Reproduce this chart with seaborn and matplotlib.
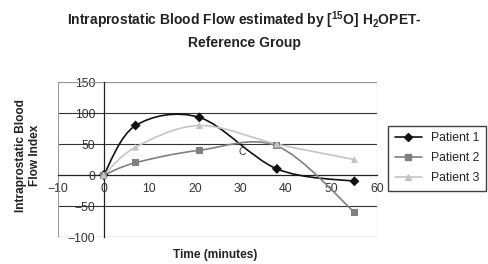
import numpy as np
import pandas as pd
import seaborn as sns
import matplotlib.pyplot as plt
from matplotlib.path import Path
from matplotlib.patches import PathPatch, Rectangle
from matplotlib.lines import Line2D

time = [0, 7, 21, 38, 55]
patient1 = [0, 80, 93, 10, -10]
patient2 = [0, 20, 40, 47, -60]
patient3 = [0, 45, 80, 50, 25]
names = ["Patient 1", "Patient 2", "Patient 3"]
colors = ["#111111", "#808080", "#c4c4c4"]
markers = ["D", "s", "^"]
xTicks = [-10, 0, 10, 20, 30, 40, 50, 60]
yTicks = [-100, -50, 0, 50, 100, 150]

sns.set_style("white")
plt.rcParams["font.family"] = ["Liberation Sans", "DejaVu Sans"]
plt.rcParams["mathtext.fontset"] = "custom"
plt.rcParams["mathtext.rm"] = "Liberation Sans"
plt.rcParams["mathtext.bf"] = "Liberation Sans:bold"

df = pd.DataFrame({
    "Time": time * 3,
    "Flow": patient1 + patient2 + patient3,
    "Patient": [n for n in names for _ in time],
})


def smoothPath(x, y):
    # excel-like smoothed line: catmull-rom segments as cubic beziers
    pts = np.column_stack([x, y]).astype(float)
    ext = np.vstack([pts[0], pts, pts[-1]])
    verts = [pts[0]]
    codes = [Path.MOVETO]
    for i in range(len(pts) - 1):
        p0, p1, p2, p3 = ext[i], ext[i + 1], ext[i + 2], ext[i + 3]
        verts += [p1 + (p2 - p0) / 6.0, p2 - (p3 - p1) / 6.0, p2]
        codes += [Path.CURVE4] * 3
    return Path(verts, codes)


fig = plt.figure(figsize=(4.88, 2.64), dpi=100)
ax = fig.add_axes([0.119, 0.102, 0.654, 0.587])
ax.set_xlim(-10, 60)
ax.set_ylim(-100, 150)

for v in [150, 100, 50, -50, -100]:
    ax.axhline(v, color="#333333", lw=0.8, zorder=1)
ax.add_patch(Rectangle((0, 0), 1, 1, transform=ax.transAxes, fill=False,
                       edgecolor="#999999", lw=0.8, zorder=1))

for name, col in zip(names, colors):
    sub = df[df.Patient == name]
    ax.add_patch(PathPatch(smoothPath(sub.Time, sub.Flow), fill=False,
                           edgecolor=col, lw=1.2, zorder=3))

sns.scatterplot(ax=ax, data=df, x="Time", y="Flow", hue="Patient", style="Patient",
                palette=colors, markers=markers, s=26, edgecolor="none",
                legend=False, zorder=4)

ax.text(30.5, 37, "C", fontsize=7.5, color="#333333", ha="center", va="center")

ax.spines["left"].set_position(("data", 0))
ax.spines["bottom"].set_position(("data", 0))
ax.spines["top"].set_visible(False)
ax.spines["right"].set_visible(False)
for s in ["left", "bottom"]:
    ax.spines[s].set_color("#222222")
    ax.spines[s].set_linewidth(0.9)
ax.set_xticks(xTicks)
ax.set_yticks(yTicks)
ax.tick_params(direction="inout", length=4, width=0.8, labelsize=8.8,
               colors="#333333", pad=4)
ax.set_xlabel("")
ax.set_ylabel("")

handles = [Line2D([0], [0], color=c, marker=m, markersize=4.5, lw=1.2)
           for c, m in zip(colors, markers)]
fig.legend(handles, names, loc="center", bbox_to_anchor=(0.896, 0.40),
           fontsize=8.8, frameon=True, fancybox=False, edgecolor="#111111",
           handlelength=2.2, borderpad=0.55, labelspacing=0.65)

fig.text(0.5, 0.965,
         "Intraprostatic Blood Flow estimated by [$^{\\mathbf{15}}$O] H$_{\\mathbf{2}}$OPET-\nReference Group",
         ha="center", va="top", fontsize=10, fontweight="bold", color="#222222",
         linespacing=1.45)
fig.text(0.057, 0.41, "Intraprostatic Blood\nFlow Index", rotation=90,
         ha="center", va="center", fontsize=8.6, fontweight="bold", color="#222222")
fig.text(0.44, 0.034, "Time (minutes)", ha="center", va="center",
         fontsize=8.6, fontweight="bold", color="#222222")

fig.savefig("out.png", dpi=100)
